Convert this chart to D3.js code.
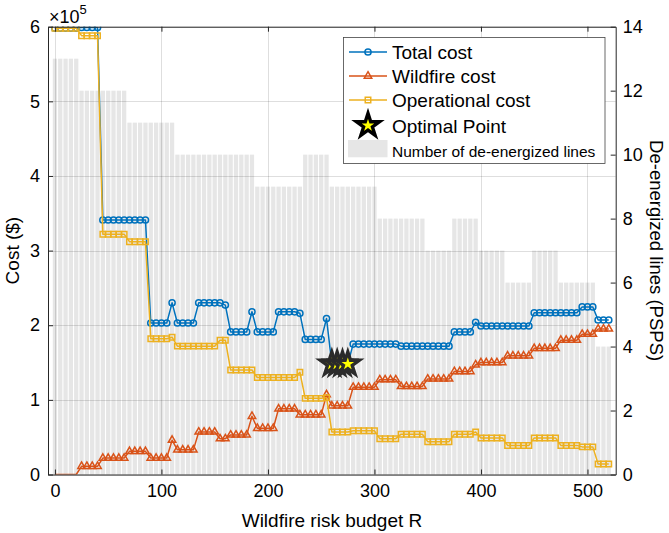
<!DOCTYPE html>
<html>
<head>
<meta charset="utf-8">
<script src="https://cdn.jsdelivr.net/npm/d3@7"></script>
<style>
  body { margin: 0; background: #fff; }
  svg { display: block; font-family: "Liberation Sans", Arial, Helvetica, sans-serif; }
</style>
</head>
<body>
<svg id="chart" width="669" height="533"></svg>
<script>
// Wildfire risk budget R (x categories)
const budget = [0,5,10,15,20,25,30,35,40,45,50,55,60,65,70,75,80,85,90,95,
  100,105,110,115,120,125,130,135,140,145,150,155,160,165,170,175,180,185,190,195,
  200,205,210,215,220,225,230,235,240,245,250,255,260,265,270,275,280,285,290,295,
  300,305,310,315,320,325,330,335,340,345,350,355,360,365,370,375,380,385,390,395,
  400,405,410,415,420,425,430,435,440,445,450,455,460,465,470,475,480,485,490,495,
  500,505,510,515,520];

// Total cost ($)
const totalCost = [598000,598000,598000,598000,598000, 599000,599000,599000,599000,
  341000,341000,341000,341000,341000,341000,341000,341000,341000,
  203000,203000,203000,203000, 230000, 203000,203000,203000,203000,
  230000,230000,230000,230000,230000, 227000,
  191000,191000,191000,191000, 218000, 191000,191000,191000,191000,
  218000,218000,218000,218000, 216000, 181000,181000,181000,181000, 209000,
  148000,148000,148000,148000,
  174700,174700,174700,174700,174700,174700,174700,174700,174700,
  172000,172000,172000,172000,172000,172000,172000,172000,172000,172000,
  191000,191000,191000,191000, 204000,
  199000,199000,199000,199000,199000,199000,199000,199000,199000,199000,
  216700,216700,216700,216700,216700,216700,216700,216700,216700,
  224500,224500,224500, 207000,207000,207000];

// Wildfire cost ($)
const wildfireCost = [0,0,0,0,0, 11000,11000,11000,11000,
  22000,22000,22000,22000,22000, 31000,31000,31000,31000,
  22000,22000,22000,22000, 46000, 33000,33000,33000,33000,
  57000,57000,57000,57000, 48000,48000, 53000,53000,53000,53000, 78000,
  62000,62000,62000,62000, 88000,88000,88000,88000,
  80000,80000,80000,80000,80000, 107000, 92000,92000,92000,92000,
  117000,117000,117000,117000,117000, 127000,127000,127000,127000,
  118000,118000,118000,118000,118000, 128000,128000,128000,128000,128000,
  138000,138000,138000,138000, 147000,
  150000,150000,150000,150000,150000, 159000,159000,159000,159000,159000,
  169000,169000,169000,169000,169000, 180000,180000,180000,180000,
  188000,188000,188000, 195000,195000,195000];

// Operational cost ($)
const operationalCost = [598000,598000,598000,598000,598000, 588000,588000,588000,588000,
  322000,322000,322000,322000,322000, 312000,312000,312000,312000,
  182000,182000,182000,182000, 184000,
  172000,172000,172000,172000,172000,172000,172000,172000, 180000,180000,
  140000,140000,140000,140000,140000,
  130000,130000,130000,130000,130000,130000,130000,130000, 137000,
  102000,102000,102000,102000, 103000,
  57000,57000,57000,57000, 58500,58500,58500,58500,58500, 48000,48000,48000,48000,
  54000,54000,54000,54000,54000, 44000,44000,44000,44000,44000,
  54000,54000,54000,54000, 57000, 49000,49000,49000,49000,49000,
  39000,39000,39000,39000,39000, 49000,49000,49000,49000,49000,
  39000,39000,39000,39000, 37000,37000,37000, 14000,14000,14000];

// Number of de-energized lines (PSPS)
const deenergized = [13,13,13,13,13, 12,12,12,12,12,12,12,12,12,
  11,11,11,11,11,11,11,11,11,
  10,10,10,10,10,10,10,10,10,10,10,10,10,10,10,
  9,9,9,9,9,9,9,9,9, 10,10,10,10,10, 9,9,9,9,9,9,9,9,9,
  8,8,8,8,8,8,8,8,8, 7,7,7,7,7, 8,8,8,8,8, 7,7,7,7,7,
  6,6,6,6,6, 7,7,7,7,7, 6,6,6,6,6,6,6, 4,4,4];

// Minimum total cost points
const optimalBudget = [260,265,270,275];
const optimalCost = [148000,148000,148000,148000];

const xTicks = [0,100,200,300,400,500];
const yLeftTicks = [0,100000,200000,300000,400000,500000,600000];
const yRightTicks = [0,2,4,6,8,10,12,14];

const C = { total: "#0072BD", wildfire: "#D95319", oper: "#EDB120" };

const box = { l: 48, r: 615.7, t: 26.7, b: 474.5 };
const x = d3.scaleLinear().domain([-6.5, 526.5]).range([box.l, box.r]);
const yL = d3.scaleLinear().domain([0, 600000]).range([box.b, box.t]);
const yR = d3.scaleLinear().domain([0, 14]).range([box.b, box.t]);

const svg = d3.select("#chart");
svg.append("rect").attr("width", 669).attr("height", 533).attr("fill", "#fff");

svg.append("defs").append("clipPath").attr("id", "plotClip")
  .append("rect").attr("x", box.l).attr("y", box.t)
  .attr("width", box.r - box.l).attr("height", box.b - box.t);

// PSPS bars on the right axis
const barW = x(4) - x(0);
svg.append("g").selectAll("rect").data(budget).join("rect")
  .attr("x", d => x(d) - barW / 2)
  .attr("y", (d, i) => yR(deenergized[i]))
  .attr("width", barW)
  .attr("height", (d, i) => yR(0) - yR(deenergized[i]))
  .attr("fill", "#e6e6e6");

// grid
const grid = svg.append("g").attr("stroke", "#000").attr("stroke-opacity", 0.13).attr("stroke-width", 1);
grid.selectAll("line.v").data(xTicks).join("line").attr("class", "v")
  .attr("x1", d => Math.round(x(d)) + 0.5).attr("x2", d => Math.round(x(d)) + 0.5)
  .attr("y1", box.t).attr("y2", box.b);
grid.selectAll("line.h").data(yLeftTicks).join("line").attr("class", "h")
  .attr("y1", d => Math.round(yL(d)) + 0.5).attr("y2", d => Math.round(yL(d)) + 0.5)
  .attr("x1", box.l).attr("x2", box.r);

// series
const plot = svg.append("g").attr("clip-path", "url(#plotClip)");
const symCircle = d3.symbol().type(d3.symbolCircle).size(30);
const symTriangle = d3.symbol().type(d3.symbolTriangle).size(24);
const symSquare = d3.symbol().type(d3.symbolSquare).size(30);
const symStar = d3.symbol().type(d3.symbolStar).size(165);

function drawSeries(values, color, sym) {
  const line = d3.line().x((d, i) => x(budget[i])).y(d => yL(d));
  plot.append("path").datum(values).attr("d", line)
    .attr("fill", "none").attr("stroke", color).attr("stroke-width", 1.5)
    .attr("stroke-linejoin", "round");
  // markers sitting on the zero baseline are hidden by the axis
  const pts = values.map((v, i) => ({ b: budget[i], v })).filter(p => p.v > 0);
  plot.append("g").selectAll("path").data(pts).join("path")
    .attr("transform", p => `translate(${x(p.b)},${yL(p.v)})`)
    .attr("d", sym).attr("fill", "none").attr("stroke", color).attr("stroke-width", 1.5);
}
drawSeries(totalCost, C.total, symCircle);
drawSeries(wildfireCost, C.wildfire, symTriangle);
drawSeries(operationalCost, C.oper, symSquare);

plot.append("g").selectAll("path").data(optimalBudget).join("path")
  .attr("transform", (d, i) => `translate(${x(d)},${yL(optimalCost[i])})`)
  .attr("d", symStar).attr("fill", "#ffff00").attr("stroke", "#2b2b2b")
  .attr("stroke-width", 3.4).attr("stroke-linejoin", "miter");

// axes
const axisColor = "#262626";
function styleAxis(g) {
  g.selectAll("path.domain").attr("stroke", axisColor).attr("stroke-width", 1);
  g.selectAll(".tick line").attr("stroke", axisColor);
  g.selectAll(".tick text").attr("fill", "#000").attr("font-size", 18)
    .attr("font-family", '"Liberation Sans", Arial, sans-serif');
}
svg.append("g").attr("transform", `translate(0,${box.b})`)
  .call(d3.axisBottom(x).tickValues(xTicks).tickSize(-5).tickSizeOuter(0).tickPadding(10))
  .call(styleAxis);
svg.append("g").attr("transform", `translate(0,${box.t})`)
  .call(d3.axisTop(x).tickValues(xTicks).tickSize(-5).tickSizeOuter(0).tickFormat(""))
  .call(styleAxis);
svg.append("g").attr("transform", `translate(${box.l},0)`)
  .call(d3.axisLeft(yL).tickValues(yLeftTicks).tickSize(-5).tickSizeOuter(0).tickPadding(8)
    .tickFormat(d => d / 100000))
  .call(styleAxis);
svg.append("g").attr("transform", `translate(${box.r},0)`)
  .call(d3.axisRight(yR).tickValues(yRightTicks).tickSize(-5).tickSizeOuter(0).tickPadding(7))
  .call(styleAxis);

// exponent
const ex = svg.append("text").attr("x", 49).attr("y", 23).attr("font-size", 18).attr("fill", "#000");
ex.append("tspan").text("\u00d710");
ex.append("tspan").attr("font-size", 13).attr("dy", -9).text("5");

// axis labels
svg.append("text").attr("x", 332).attr("y", 527).attr("text-anchor", "middle")
  .attr("font-size", 19).text("Wildfire risk budget R");
svg.append("text").attr("transform", `translate(19,${(box.t + box.b) / 2}) rotate(-90)`)
  .attr("text-anchor", "middle").attr("font-size", 19).text("Cost ($)");
svg.append("text").attr("transform", `translate(650,${(box.t + box.b) / 2}) rotate(90)`)
  .attr("text-anchor", "middle").attr("font-size", 18.5).text("De-energized lines (PSPS)");

// legend
const lg = svg.append("g");
lg.append("rect").attr("x", 343.5).attr("y", 37.5).attr("width", 261.5).attr("height", 126)
  .attr("fill", "#fff").attr("stroke", "#444").attr("stroke-width", 0.8);
const entries = [
  { label: "Total cost", color: C.total, sym: symCircle, y: 52 },
  { label: "Wildfire cost", color: C.wildfire, sym: symTriangle, y: 76 },
  { label: "Operational cost", color: C.oper, sym: symSquare, y: 100 }
];
entries.forEach(e => {
  lg.append("line").attr("x1", 349).attr("x2", 387).attr("y1", e.y).attr("y2", e.y)
    .attr("stroke", e.color).attr("stroke-width", 1.5);
  lg.append("path").attr("transform", `translate(368,${e.y})`)
    .attr("d", e.sym).attr("fill", "none")
    .attr("stroke", e.color).attr("stroke-width", 1.5);
  lg.append("text").attr("x", 392).attr("y", e.y + 7).attr("font-size", 19).text(e.label);
});
lg.append("path").attr("transform", "translate(368,125.5)").attr("d", symStar)
  .attr("fill", "#ffff00").attr("stroke", "#000").attr("stroke-width", 3.4);
lg.append("text").attr("x", 392).attr("y", 132.5).attr("font-size", 19).text("Optimal Point");
lg.append("rect").attr("x", 348).attr("y", 140).attr("width", 39.5).attr("height", 17.3)
  .attr("fill", "#e6e6e6");
lg.append("text").attr("x", 392).attr("y", 157).attr("font-size", 15.5).text("Number of de-energized lines");
</script>
</body>
</html>
